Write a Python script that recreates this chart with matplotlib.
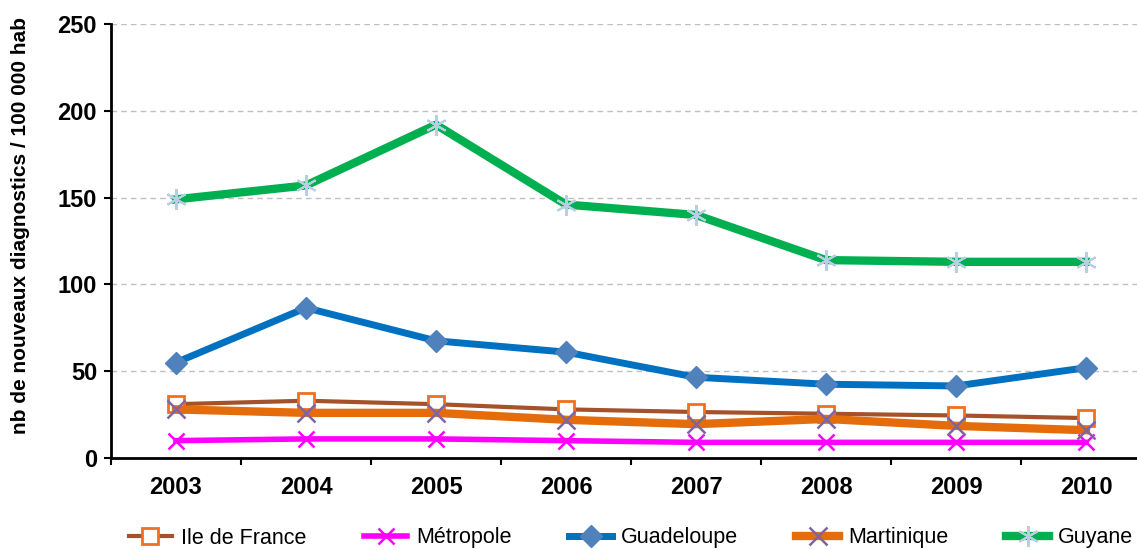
import matplotlib
matplotlib.use("Agg")
import matplotlib.pyplot as plt
import numpy as np

plt.rcParams["font.family"] = ["Liberation Sans", "DejaVu Sans"]

years = ["2003", "2004", "2005", "2006", "2007", "2008", "2009", "2010"]
ile_de_france = [31, 33, 31, 28, 26.5, 25.5, 24.5, 23]
metropole = [10, 11, 11, 10, 9, 9, 9, 9]
guadeloupe = [55, 86.5, 67.5, 61, 46.5, 42.5, 41.5, 52]
martinique = [28, 26, 26, 22, 19.5, 22.5, 18.5, 16]
guyane = [149, 157, 192, 146, 140, 114, 113, 113]

x = np.arange(len(years))

fig = plt.figure(figsize=(11.37, 5.5), dpi=100)
ax = fig.add_axes([111 / 1137, 92 / 550, 1040 / 1137, 434 / 550])

ax.plot(x, ile_de_france, color="#A5522B", lw=3, marker="s", ms=11,
        mfc="white", mec="#F07020", mew=2, label="Ile de France", zorder=4)
ax.plot(x, metropole, color="#FF00FF", lw=4, marker="x", ms=11,
        mec="#FF00FF", mew=1.8, label="Métropole", zorder=4)
ax.plot(x, guadeloupe, color="#0070C0", lw=5, marker="D", ms=11,
        mfc="#4F81BD", mec="#4F81BD", label="Guadeloupe", zorder=4)
ax.plot(x, martinique, color="#E46C0A", lw=6, marker="x", ms=13,
        mec="#8064A2", mew=1.8, label="Martinique", zorder=4)
ax.plot(x, guyane, color="#00B050", lw=6, marker=(6, 2, 0), ms=15,
        mec="#B9CDE5", mew=1.5, label="Guyane", zorder=4)

ax.set_xlim(-0.5, len(years) - 0.5)
ax.set_ylim(0, 250)
ax.set_yticks(range(0, 251, 50))
ax.yaxis.grid(True, color="#BFBFBF", linestyle=(0, (4, 3)), lw=1)
ax.set_axisbelow(True)

ax.set_xticks(x)
ax.set_xticklabels(years, fontsize=17, fontweight="bold")
ax.set_xticks(np.arange(-0.5, len(years), 1), minor=True)
ax.tick_params(axis="x", which="major", length=0, pad=13)
ax.tick_params(axis="x", which="minor", length=5, width=1.5, direction="out")
ax.tick_params(axis="y", length=5, width=1.5, direction="out", labelsize=17, pad=5)
for lab in ax.get_yticklabels():
    lab.set_fontweight("bold")

for s in ["top", "right"]:
    ax.spines[s].set_visible(False)
for s in ["left", "bottom"]:
    ax.spines[s].set_linewidth(2)
    ax.spines[s].set_color("black")

ax.set_ylabel("nb de nouveaux diagnostics / 100 000 hab", fontsize=15,
              fontweight="bold")
ax.yaxis.set_label_coords(-0.078, 0.535)

leg = fig.legend(loc="center", bbox_to_anchor=(0.555, 12 / 550), ncol=5,
                 frameon=False, fontsize=15.5, handlelength=2.0,
                 columnspacing=2.7, handletextpad=0.4)

plt.savefig("out.png", dpi=100)
